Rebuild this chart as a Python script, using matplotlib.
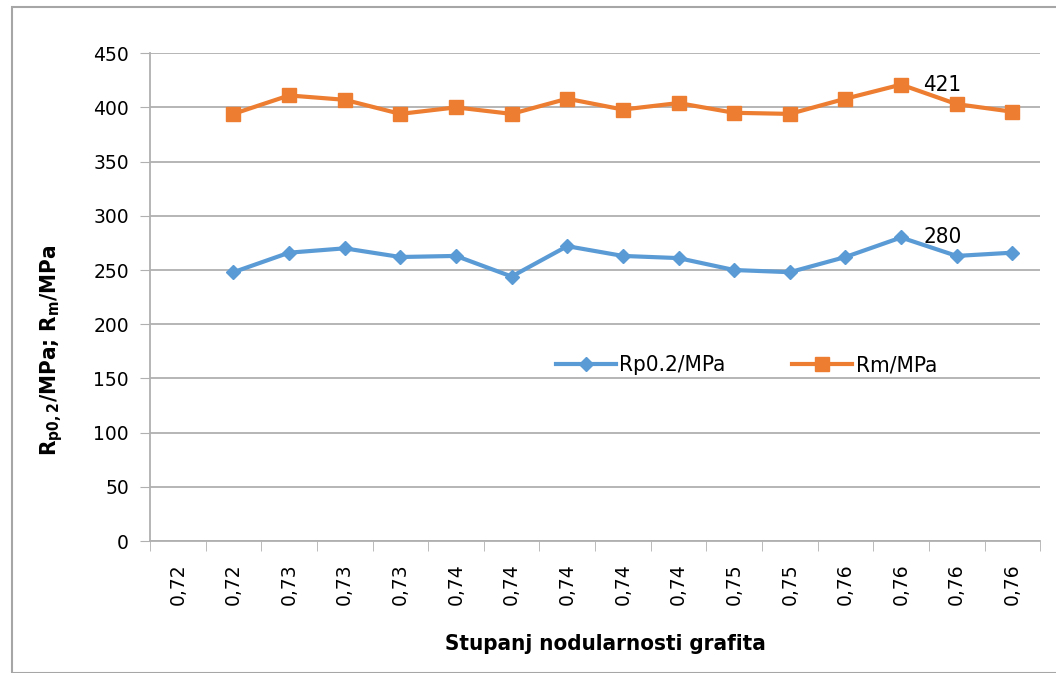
import matplotlib
matplotlib.use('Agg')
import matplotlib.pyplot as plt
from matplotlib.patches import Rectangle

# kategorije na osi x (stupanj nodularnosti)
kategorije = ['0,72', '0,72', '0,73', '0,73', '0,73', '0,74', '0,74', '0,74',
              '0,74', '0,74', '0,75', '0,75', '0,76', '0,76', '0,76', '0,76']
# prva kategorija nema mjerenja
rp02 = [None, 248, 266, 270, 262, 263, 244, 272, 263, 261, 250, 248, 262, 280, 263, 266]
rm = [None, 394, 411, 407, 394, 400, 394, 408, 398, 404, 395, 394, 408, 421, 403, 396]

boja_rp = '#5B9BD5'
boja_rm = '#ED7D31'
siva = '#B0B0B0'

# uski font za natpise
uski = dict(family='DejaVu Sans', stretch='condensed')

fig = plt.figure(figsize=(10.56, 6.73), dpi=100)
# okvir oko grafa
fig.patches.append(Rectangle((0.011, 0.0), 0.995, 0.99, transform=fig.transFigure,
                             fill=False, edgecolor='#A6A6A6', lw=1.5))
ax = fig.add_axes([0.142, 0.196, 0.843, 0.725])

x = list(range(len(kategorije)))
xr = [i for i, v in zip(x, rp02) if v is not None]
yr = [v for v in rp02 if v is not None]
ym = [v for v in rm if v is not None]

ax.plot(xr, yr, color=boja_rp, lw=3, marker='D', ms=7, label='Rp0.2/MPa', zorder=3)
ax.plot(xr, ym, color=boja_rm, lw=3, marker='s', ms=9.5, label='Rm/MPa', zorder=3)

# oznaka maksimuma
i_rp = rp02.index(max(yr))
i_rm = rm.index(max(ym))
ax.annotate(str(max(yr)), (i_rp, max(yr)), xytext=(16, 0), textcoords='offset points',
            va='center', ha='left', fontsize=16, **uski)
ax.annotate(str(max(ym)), (i_rm, max(ym)), xytext=(16, 0), textcoords='offset points',
            va='center', ha='left', fontsize=16, **uski)

ax.set_xlim(-0.5, len(kategorije) - 0.5)
ax.set_ylim(0, 450)
ax.set_yticks(range(0, 451, 50))
ax.set_xticks(x)
ax.set_xticklabels(kategorije, rotation=90, fontsize=13.5)
ax.set_xticks([i - 0.5 for i in range(len(kategorije) + 1)], minor=True)
ax.tick_params(axis='x', which='major', length=0, pad=16)
ax.tick_params(axis='x', which='minor', length=7, color=siva, direction='out')
ax.tick_params(axis='y', length=7, color=siva, direction='out', labelsize=13.5, pad=8)

ax.grid(axis='y', color=siva, lw=1.3)
ax.set_axisbelow(True)
for s in ['top', 'right']:
    ax.spines[s].set_visible(False)
ax.spines['left'].set_color(siva)
ax.spines['bottom'].set_color(siva)
ax.spines['left'].set_linewidth(1.3)
ax.spines['bottom'].set_linewidth(1.3)

ax.set_xlabel('Stupanj nodularnosti grafita', fontsize=16, fontweight='bold', **uski)
ax.xaxis.set_label_coords(0.512, -0.19)
ax.set_ylabel(r'R$_{\mathregular{p0,2}}$/MPa; R$_{\mathregular{m}}$/MPa', fontsize=16,
              fontweight='bold', **uski)
ax.yaxis.set_label_coords(-0.095, 0.39)

ax.legend(loc='center', bbox_to_anchor=(0.67, 0.36), ncol=2, frameon=False,
          prop={'family': 'DejaVu Sans', 'stretch': 'condensed', 'size': 16},
          handlelength=2.7, columnspacing=3.0, handletextpad=0.15)

plt.savefig('out.png', dpi=100)
